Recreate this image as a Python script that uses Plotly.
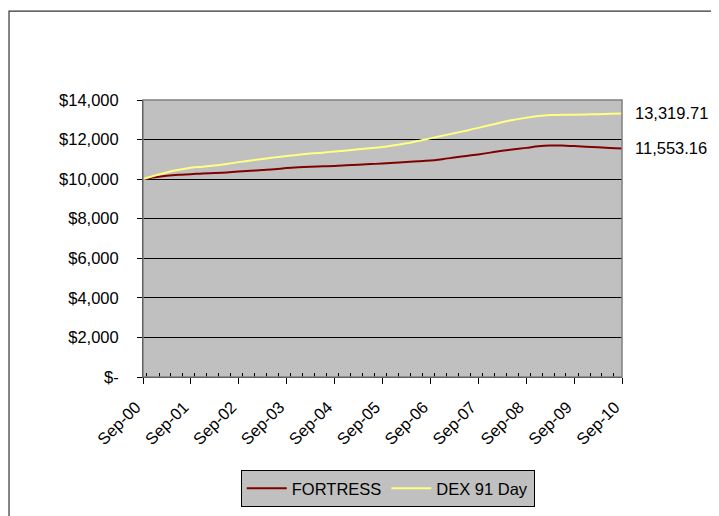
import plotly.graph_objects as go
import pandas as pd

dates = pd.date_range("2000-09-01", "2010-09-01", freq="3MS")

fortress = [10000, 10090, 10170, 10220, 10250, 10290, 10310, 10340, 10380,
            10420, 10460, 10500, 10560, 10600, 10630, 10650, 10670, 10700,
            10730, 10760, 10790, 10830, 10870, 10900, 10940, 11010, 11090,
            11170, 11250, 11340, 11430, 11510, 11580, 11660, 11700, 11700,
            11670, 11640, 11610, 11580, 11553.16]

dex = [10000, 10180, 10340, 10470, 10580, 10630, 10690, 10770, 10860,
       10940, 11020, 11100, 11170, 11230, 11290, 11340, 11400, 11450,
       11510, 11560, 11620, 11710, 11810, 11930, 12060, 12190, 12320,
       12450, 12590, 12740, 12880, 13000, 13100, 13190, 13240, 13250,
       13260, 13270, 13280, 13300, 13319.71]

ytick_vals = [0, 2000, 4000, 6000, 8000, 10000, 12000, 14000]
ytick_text = ["$-", "$2,000", "$4,000", "$6,000", "$8,000", "$10,000", "$12,000", "$14,000"]
end_labels = ["13,319.71", "11,553.16"]

font = dict(family="Arial, Liberation Sans, sans-serif", size=16.5, color="black")

fig = go.Figure()
fig.add_trace(go.Scatter(x=dates, y=fortress, mode="lines", name="FORTRESS",
                         line=dict(color="#800000", width=2, shape="spline")))
fig.add_trace(go.Scatter(x=dates, y=dex, mode="lines", name="DEX 91 Day",
                         line=dict(color="#FFFF80", width=2, shape="spline")))

fig.add_annotation(x=1, xref="paper", y=dex[-1], yref="y", text=end_labels[0],
                   showarrow=False, xanchor="left", xshift=11, font=font)
fig.add_annotation(x=1, xref="paper", y=fortress[-1], yref="y", text=end_labels[1],
                   showarrow=False, xanchor="left", xshift=11, font=font)

# plot-area border
fig.add_shape(type="rect", xref="paper", yref="paper", x0=0, y0=0, x1=1, y1=1,
              line=dict(color="#808080", width=1.5), layer="above")
# outer chart border
fig.add_shape(type="rect", xref="paper", yref="paper", x0=-0.2797, y0=-2, x1=2, y1=1.321,
              line=dict(color="#333333", width=1.2))

fig.update_layout(
    width=719, height=516,
    margin=dict(l=135, r=105, t=92, b=147),
    paper_bgcolor="white", plot_bgcolor="#C0C0C0",
    font=font,
    showlegend=True,
    legend=dict(orientation="h", x=0.511, xanchor="center", y=-0.336, yanchor="top",
                bgcolor="#C0C0C0", bordercolor="black", borderwidth=1,
                font=dict(size=16.5), itemwidth=40),
    xaxis=dict(type="date", range=[dates[0], dates[-1]],
               tickformat="%b-%y", dtick="M12", tick0="2000-09-01",
               tickangle=-45, ticks="outside", ticklen=6, tickcolor="black",
               ticklabelstandoff=7, ticklabelshift=-7,
               showgrid=False, showline=True, linecolor="black", linewidth=1,
               zeroline=False,
               minor=dict(dtick="M3", ticks="inside", ticklen=4, tickcolor="black", showgrid=False)),
    yaxis=dict(range=[0, 14000], tickvals=ytick_vals, ticktext=ytick_text,
               ticks="outside", ticklen=5, tickcolor="black", ticklabelstandoff=15,
               showgrid=True, gridcolor="black", gridwidth=1,
               showline=True, linecolor="black", linewidth=1, zeroline=False),
)

fig.write_html("out.html")
